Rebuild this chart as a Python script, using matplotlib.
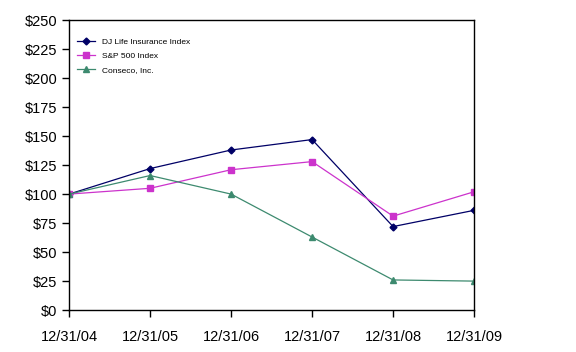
import matplotlib
matplotlib.use("Agg")
import matplotlib.pyplot as plt
from matplotlib.ticker import FuncFormatter

plt.rcParams['font.family'] = ['Liberation Sans', 'DejaVu Sans']

dates = ['12/31/04', '12/31/05', '12/31/06', '12/31/07', '12/31/08', '12/31/09']
dj_life = [100, 122, 138, 147, 72, 86]
sp500 = [100, 105, 121, 128, 81, 102]
conseco = [100, 116, 100, 63, 26, 25]

fig = plt.figure(figsize=(5.76, 3.52), dpi=100)
ax = fig.add_axes([0.12, 0.119, 0.703, 0.824])

x = range(len(dates))
ax.plot(x, dj_life, color='#000066', marker='D', ms=3.5, lw=0.9, label='DJ Life Insurance Index')
ax.plot(x, sp500, color='#CC33CC', marker='s', ms=4.5, lw=0.9, label='S&P 500 Index')
ax.plot(x, conseco, color='#3D8A6F', marker='^', ms=4.5, lw=0.9, label='Conseco, Inc.')

ax.set_xlim(0, 5)
ax.set_ylim(0, 250)
ax.set_yticks(range(0, 251, 25))
ax.yaxis.set_major_formatter(FuncFormatter(lambda v, p: '$%d' % v))
ax.set_xticks(list(x))
ax.set_xticklabels(dates)
ax.tick_params(direction='out', length=5, width=1, labelsize=10.5, colors='black')
ax.tick_params(axis='x', pad=9)
for s in ax.spines.values():
    s.set_linewidth(1)

ax.legend(loc='upper left', frameon=False, fontsize=6, handlelength=2.2,
          bbox_to_anchor=(0.0, 0.965), labelspacing=0.75)

fig.savefig('out.png', dpi=100)
